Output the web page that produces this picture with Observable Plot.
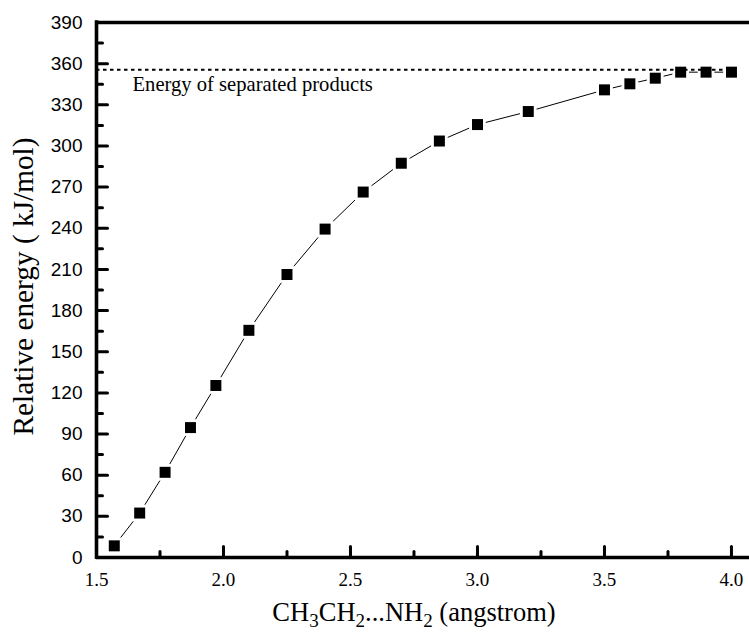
<!DOCTYPE html>
<html>
<head>
<meta charset="utf-8">
<script src="https://cdn.jsdelivr.net/npm/d3@7"></script>
<script src="https://cdn.jsdelivr.net/npm/@observablehq/plot@0.6"></script>
<style>
  html, body { margin: 0; padding: 0; background: #fff; }
  #chart svg { display: block; }
</style>
</head>
<body>
<div id="chart"></div>
<script>
// ---- data ----
const distance = [1.57, 1.67, 1.77, 1.87, 1.97, 2.10, 2.25, 2.40, 2.55, 2.70, 2.85, 3.00, 3.20, 3.50, 3.60, 3.70, 3.80, 3.90, 4.00];
const energy   = [8.5, 32.4, 62.1, 94.7, 125.4, 165.6, 206.3, 239.4, 266.4, 287.4, 303.6, 315.6, 325.1, 340.9, 345.3, 349.4, 353.8, 353.8, 353.8];
const separatedEnergy = [355.5];
const separatedEnd = 4.02;
const separatedLabel = "Energy of separated products";
const yTicks = [0, 30, 60, 90, 120, 150, 180, 210, 240, 270, 300, 330, 360, 390];
const yMinorTicks = [15, 45, 75, 105, 135, 165, 195, 225, 255, 285, 315, 345, 375];
const xTicks = [1.5, 2.0, 2.5, 3.0, 3.5, 4.0];
const xMinorTicks = [1.75, 2.25, 2.75, 3.25, 3.75];
const xTickLabels = ["1.5", "2.0", "2.5", "3.0", "3.5", "4.0"];
const xDomain = [1.5, 4.071];
const yDomain = [0, 390];
const xTitleParts = [["CH", false], ["3", true], ["CH", false], ["2", true], ["...NH", false], ["2", true], [" (angstrom)", false]];
const xTitle = xTitleParts.map(p => p[0]).join("");
const yTitle = "Relative energy ( kJ/mol)";

const points = distance.map((d, i) => ({distance: d, energy: energy[i]}));
const xTickData = xTicks.map((d, i) => ({value: d, label: xTickLabels[i]}));

const serif = "Liberation Serif";
const sans = "Liberation Sans";

const tickShape = { draw(context, l) { context.moveTo(0, 0); context.lineTo(0, -l); } };

const chart = Plot.plot({
  width: 749,
  height: 636,
  marginLeft: 96,
  marginRight: 0,
  marginTop: 22,
  marginBottom: 79,
  style: { background: "#fff", overflow: "visible" },
  x: { domain: xDomain, axis: null },
  y: { domain: yDomain, axis: null },
  marks: [
    // tick labels
    Plot.text(yTicks, { x: xDomain[0], y: d => d, text: d => String(d), textAnchor: "end", dx: -14, fontSize: 19, fontFamily: sans, fill: "#000" }),
    Plot.text(xTickData, { x: "value", y: yDomain[0], text: "label", lineAnchor: "bottom", dy: 28.5, fontSize: 19, fontFamily: serif, fill: "#000" }),
    // inward ticks
    Plot.vector(yTicks, { x: xDomain[0], y: d => d, length: 11, rotate: 90, anchor: "start", shape: tickShape, stroke: "#000", strokeWidth: 3 }),
    Plot.vector(yMinorTicks, { x: xDomain[0], y: d => d, length: 6, rotate: 90, anchor: "start", shape: tickShape, stroke: "#000", strokeWidth: 3 }),
    Plot.vector(xTicks, { x: d => d, y: yDomain[0], length: 11, rotate: 0, anchor: "start", shape: tickShape, stroke: "#000", strokeWidth: 3 }),
    Plot.vector(xMinorTicks, { x: d => d, y: yDomain[0], length: 6, rotate: 0, anchor: "start", shape: tickShape, stroke: "#000", strokeWidth: 3 }),
    // frame lines
    Plot.ruleY([yDomain[0], yDomain[1]], { stroke: "#000", strokeWidth: 3.6 }),
    Plot.ruleX([xDomain[0]], { stroke: "#000", strokeWidth: 3.6, strokeLinecap: "square" }),
    // data line
    Plot.line(points, { x: "distance", y: "energy", stroke: "#000", strokeWidth: 1 }),
    // white halos around markers (gap in the line)
    Plot.dot(points, { x: "distance", y: "energy", symbol: "square", r: 9.4, fill: "#fff", stroke: "none" }),
    // separated products level
    Plot.ruleY(separatedEnergy, { x1: xDomain[0], x2: separatedEnd, stroke: "#000", strokeWidth: 2, strokeDasharray: "3.5,3.5" }),
    Plot.text(separatedEnergy, { x: xDomain[0], y: d => d, text: () => separatedLabel, textAnchor: "start", lineAnchor: "bottom", dx: 36, dy: 21, fontSize: 20.6, fontFamily: serif, fill: "#000" }),
    // markers
    Plot.dot(points, { x: "distance", y: "energy", symbol: "square", r: 6.2, fill: "#000", stroke: "none" }),
    // axis titles
    Plot.text([xTitle], { x: (xTicks[0] + xTicks[xTicks.length - 1]) / 2, y: yDomain[0], text: d => d, textAnchor: "middle", lineAnchor: "bottom", dy: 63, fontSize: 26.5, fontFamily: serif, fill: "#000" }),
    Plot.text([yTitle], { frameAnchor: "left", text: d => d, textAnchor: "middle", rotate: -90, dx: -73, dy: -3.5, fontSize: 29.3, fontFamily: serif, fill: "#000" })
  ]
});

// subscripts in the x-axis title
chart.querySelectorAll("text").forEach(t => {
  if (t.textContent === xTitle) {
    while (t.firstChild) t.removeChild(t.firstChild);
    let shifted = false;
    xTitleParts.forEach(([s, sub]) => {
      const ts = document.createElementNS("http://www.w3.org/2000/svg", "tspan");
      ts.textContent = s;
      if (sub) {
        ts.setAttribute("font-size", "19");
        ts.setAttribute("dy", "6");
        shifted = true;
      } else if (shifted) {
        ts.setAttribute("dy", "-6");
        shifted = false;
      }
      t.appendChild(ts);
    });
  }
});

document.getElementById("chart").appendChild(chart);
</script>
</body>
</html>
